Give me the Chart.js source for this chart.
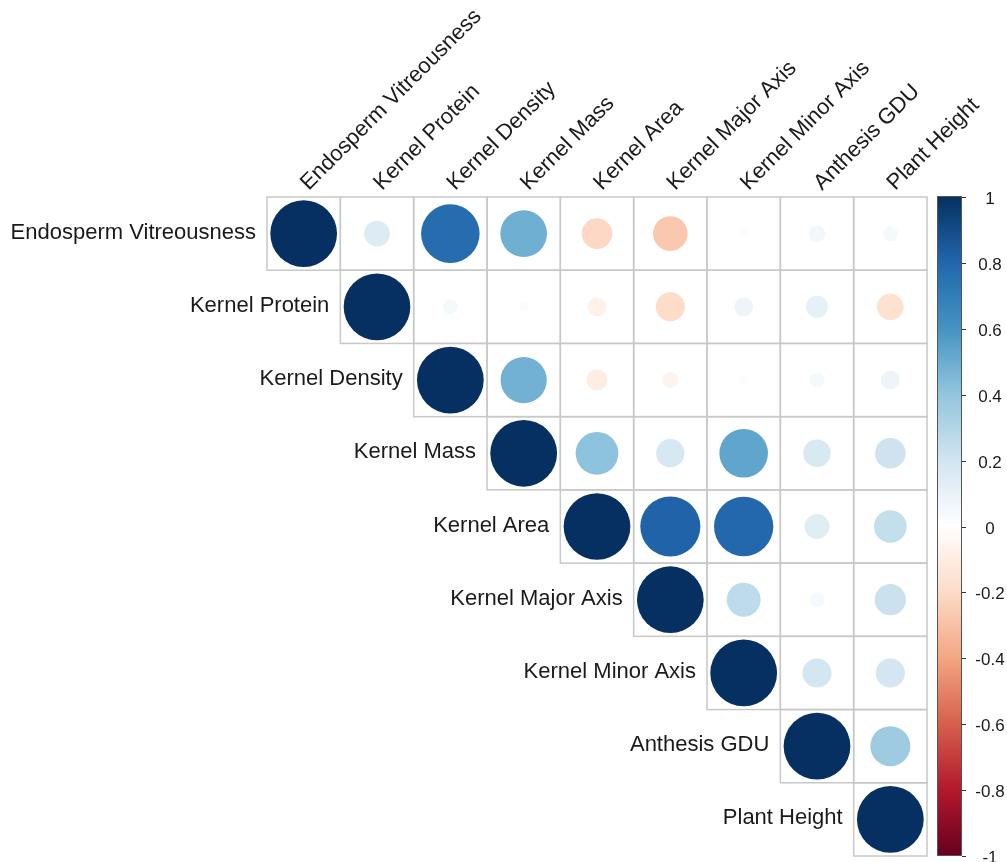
<!DOCTYPE html>
<html>
<head>
<meta charset="utf-8">
<script src="https://cdn.jsdelivr.net/npm/chart.js@4/dist/chart.umd.min.js"></script>
<style>
    html, body { margin: 0; padding: 0; background: #fff; }
    canvas { display: block; }
</style>
</head>
<body>
<canvas id="corr" width="1007" height="862"></canvas>
<script>
const traits = ['Endosperm Vitreousness', 'Kernel Protein', 'Kernel Density', 'Kernel Mass', 'Kernel Area',
    'Kernel Major Axis', 'Kernel Minor Axis', 'Anthesis GDU', 'Plant Height']

// upper triangle of the correlation matrix, each row starts at its diagonal
const rowVitreousness = [1, 0.15, 0.77, 0.49, -0.21, -0.27, 0.02, 0.06, 0.05]
const rowProtein = [1, 0.05, -0.02, -0.08, -0.19, 0.08, 0.11, -0.16]
const rowDensity = [1, 0.48, -0.10, -0.06, -0.02, 0.05, 0.08]
const rowMass = [1, 0.41, 0.18, 0.53, 0.17, 0.21]
const rowArea = [1, 0.81, 0.79, 0.14, 0.24]
const rowMajor = [1, 0.26, 0.05, 0.22]
const rowMinor = [1, 0.19, 0.19]
const rowGDU = [1, 0.36]
const rowHeight = [1]

const colorbarTicks = [1, 0.8, 0.6, 0.4, 0.2, 0, -0.2, -0.4, -0.6, -0.8, -1]

// RdBu ramp from -1 to 1
const palette = ['#67001F', '#B2182B', '#D6604D', '#F4A582', '#FDDBC7', '#FFFFFF',
    '#D1E5F0', '#92C5DE', '#4393C3', '#2166AC', '#053061']

const rows = [rowVitreousness, rowProtein, rowDensity, rowMass, rowArea, rowMajor, rowMinor, rowGDU, rowHeight]
const n = traits.length

const hex = h => [1, 3, 5].map(i => parseInt(h.slice(i, i + 2), 16))
const colorFor = v => {
    const t = (Math.max(-1, Math.min(1, v)) + 1) / 2 * (palette.length - 1)
    const i = Math.min(Math.floor(t), palette.length - 2)
    const f = t - i
    const a = hex(palette[i]), b = hex(palette[i + 1])
    const c = a.map((x, k) => Math.round(x + (b[k] - x) * f))
    return `rgb(${c[0]},${c[1]},${c[2]})`
}

const points = []
rows.forEach((vals, r) => {
    vals.forEach((v, k) => points.push({ x: r + k + 1, y: r + 1, v: v }))
})

const cellSize = chart => {
    const s = chart.scales.x
    return s.getPixelForValue(2) - s.getPixelForValue(1)
}

const FONT = '"Liberation Sans", Arial, sans-serif'

const corrplot = {
    id: 'corrplot',
    beforeDraw(chart) {
        const ctx = chart.ctx
        ctx.save()
        ctx.fillStyle = '#fff'
        ctx.fillRect(0, 0, chart.width, chart.height)
        ctx.restore()
    },
    beforeDatasetsDraw(chart) {
        const { ctx, scales: { x, y } } = chart
        ctx.save()
        ctx.strokeStyle = '#c8c8c8'
        ctx.lineWidth = 1.5
        for (let r = 1; r <= n; r++) {
            for (let c = r; c <= n; c++) {
                const x0 = x.getPixelForValue(c - 0.5), x1 = x.getPixelForValue(c + 0.5)
                const y0 = y.getPixelForValue(r - 0.5), y1 = y.getPixelForValue(r + 0.5)
                ctx.strokeRect(x0, y0, x1 - x0, y1 - y0)
            }
        }
        ctx.restore()
    },
    afterDraw(chart) {
        const { ctx, chartArea, scales: { x, y, cb } } = chart
        ctx.save()
        ctx.fillStyle = '#1a1a1a'
        ctx.font = '22px ' + FONT

        // row labels, right aligned against the diagonal cell
        ctx.textAlign = 'right'
        ctx.textBaseline = 'middle'
        traits.forEach((t, i) => {
            ctx.fillText(t, x.getPixelForValue(i + 0.5) - 11, y.getPixelForValue(i + 1) - 1)
        })

        // column labels, slanted above the top row
        ctx.textAlign = 'left'
        ctx.textBaseline = 'alphabetic'
        traits.forEach((t, i) => {
            ctx.save()
            ctx.translate(x.getPixelForValue(i + 1) + 5, chartArea.top - 6)
            ctx.rotate(-Math.PI / 4)
            ctx.fillText(t, 0, 0)
            ctx.restore()
        })

        // colour legend
        const left = chartArea.right + 10, width = 25
        const top = cb.getPixelForValue(1) - 1, bottom = cb.getPixelForValue(-1)
        const grad = ctx.createLinearGradient(0, bottom, 0, top)
        palette.forEach((c, i) => grad.addColorStop(i / (palette.length - 1), c))
        ctx.fillStyle = grad
        ctx.fillRect(left, top, width, bottom - top)
        ctx.strokeStyle = '#555'
        ctx.lineWidth = 1
        ctx.strokeRect(left + 0.5, top + 0.5, width - 1, bottom - top - 1)

        ctx.font = '17px ' + FONT
        ctx.textAlign = 'center'
        ctx.textBaseline = 'middle'
        colorbarTicks.forEach(v => {
            const py = Math.round(cb.getPixelForValue(v)) + 0.5
            ctx.strokeStyle = '#333'
            ctx.beginPath()
            ctx.moveTo(left + width, py)
            ctx.lineTo(left + width + 4, py)
            ctx.stroke()
            ctx.fillStyle = '#1a1a1a'
            ctx.fillText(String(v), left + width + 28, py + 2)
        })
        ctx.restore()
    }
}

new Chart(document.getElementById('corr').getContext('2d'), {
    type: 'scatter',
    data: {
        datasets: [{
            data: points,
            pointRadius: c => Math.sqrt(Math.abs(c.raw.v)) * cellSize(c.chart) * 0.455,
            pointBackgroundColor: c => colorFor(c.raw.v),
            pointBorderWidth: 0
        }]
    },
    options: {
        responsive: false,
        animation: false,
        events: [],
        layout: { padding: { left: 267, right: 80, top: 197, bottom: 6 } },
        scales: {
            x: { type: 'linear', min: 0.5, max: 9.5, display: false },
            y: { type: 'linear', min: 0.5, max: 9.5, reverse: true, display: false },
            cb: { type: 'linear', axis: 'y', min: -1, max: 1, display: false }
        },
        plugins: { legend: { display: false }, tooltip: { enabled: false } }
    },
    plugins: [corrplot]
})
</script>
</body>
</html>
